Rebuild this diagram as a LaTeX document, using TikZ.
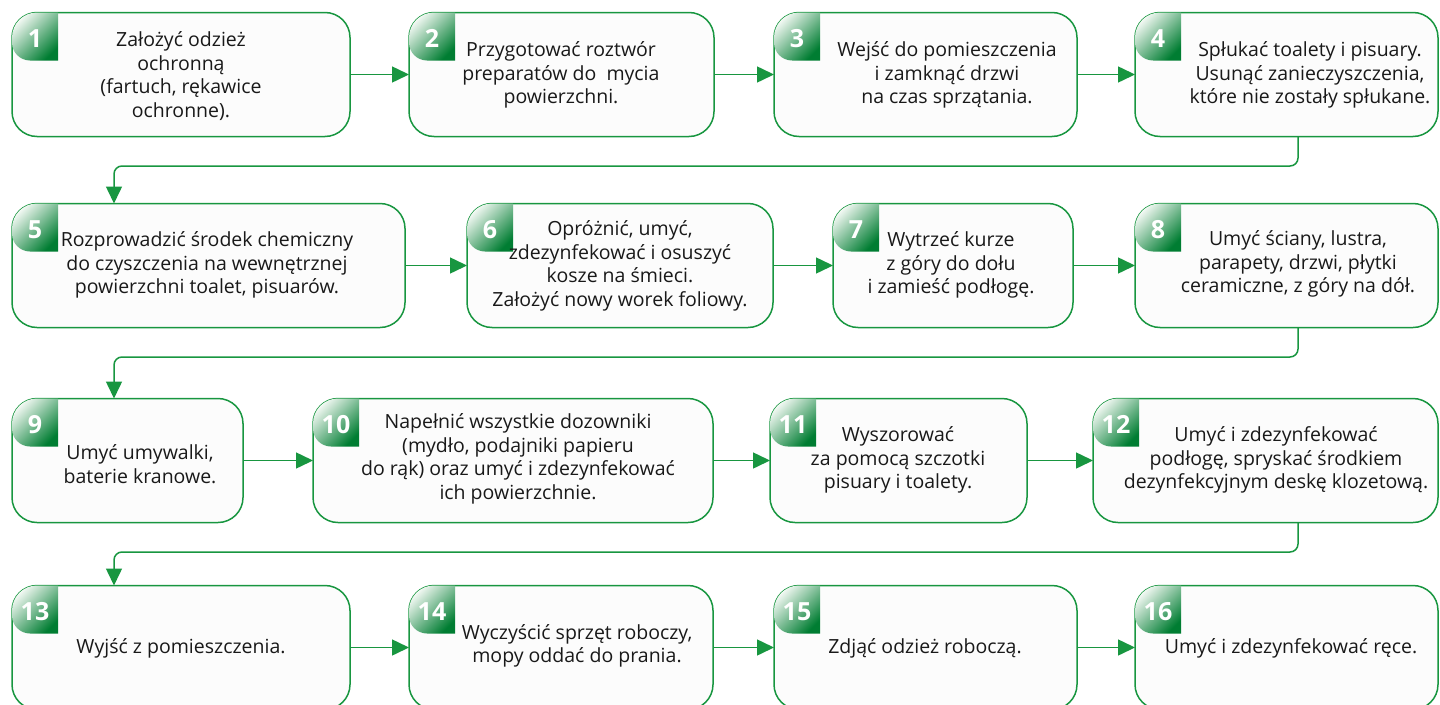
\documentclass[tikz,border=0pt]{standalone}
\usepackage{fontspec}
\setmainfont{Open Sans}
\usetikzlibrary{arrows.meta}
\definecolor{stepgreen}{RGB}{24,150,64}
\definecolor{badgedark}{RGB}{0,125,50}
\definecolor{badgemid}{RGB}{40,150,75}
\definecolor{badgelight}{RGB}{245,250,245}
\definecolor{boxfill}{RGB}{252,252,252}
\definecolor{textgray}{RGB}{25,25,25}
\tikzset{
  stepbox/.style={draw=stepgreen, line width=1.5pt, fill=boxfill, rounded corners=25pt,
    outer sep=0pt, inner sep=0pt, minimum height=124pt},
  steptext/.style={align=center, text=textgray, inner sep=0pt,
    font=\fontsize{19.5pt}{23.5pt}\selectfont},
  flow/.style={draw=stepgreen, line width=1.5pt, -{Triangle[length=17pt,width=16pt]}},
  badgenum/.style={text=white, font=\fontsize{25pt}{25pt}\selectfont\bfseries}
}
% green corner badge with the step number
\newcommand\stepbadge[2]{%
  \begin{scope}
    \clip[rounded corners=25pt] (#1.north west) rectangle (#1.south east);
    \shade[left color=badgelight, middle color=badgemid, right color=badgedark, shading angle=45]
      (#1.north west) -- ++(46,0) -- ++(0,48) [rounded corners=18pt] -- ++(-46,0) [sharp corners] -- cycle;
  \end{scope}
  \node[badgenum] (#1n) at ([shift={(23,26)}]#1.north west) {#2};
}

\begin{document}
\begin{tikzpicture}[x=1pt,y=-1pt]
			%%%%% START %%%%%
			\clip (0,0) rectangle (1440,704);
			
			% boxes
			\node[stepbox, minimum width=338pt] (s1) at (181,74.5) {};
			\node[stepbox, minimum width=305pt] (s2) at (561.5,74.5) {};
			\node[stepbox, minimum width=303pt] (s3) at (925.5,74.5) {};
			\node[stepbox, minimum width=303pt] (s4) at (1286.5,74.5) {};
			\node[stepbox, minimum width=393pt] (s5) at (208.5,265.5) {};
			\node[stepbox, minimum width=306pt] (s6) at (620,265.5) {};
			\node[stepbox, minimum width=240pt] (s7) at (953,265.5) {};
			\node[stepbox, minimum width=303pt] (s8) at (1286.5,265.5) {};
			\node[stepbox, minimum width=231pt] (s9) at (127.5,460.5) {};
			\node[stepbox, minimum width=400pt] (s10) at (513,460.5) {};
			\node[stepbox, minimum width=257pt] (s11) at (898.5,460.5) {};
			\node[stepbox, minimum width=345pt] (s12) at (1265.5,460.5) {};
			\node[stepbox, minimum width=338pt] (s13) at (181,647.5) {};
			\node[stepbox, minimum width=304pt] (s14) at (561,647.5) {};
			\node[stepbox, minimum width=303pt] (s15) at (925.5,647.5) {};
			\node[stepbox, minimum width=303pt] (s16) at (1286.5,647.5) {};
			
			\foreach \i in {1,...,16} {\stepbadge{s\i}{\i}}
			
			% texts
			\node[steptext] (t1) at (181,76) {Założyć odzież\\ochronną\\(fartuch, rękawice\\ochronne).};
			\node[steptext] (t2) at (561,75) {Przygotować roztwór\\preparatów do\ \ mycia\\powierzchni.};
			\node[steptext] (t3) at (947,75) {Wejść do pomieszczenia\\i zamknąć drzwi\\na czas sprzątania.};
			\node[steptext] (t4) at (1310,75) {Spłukać toalety i pisuary.\\Usunąć zanieczyszczenia,\\które nie zostały spłukane.};
			\node[steptext] (t5) at (207,265) {Rozprowadzić środek chemiczny\\do czyszczenia na wewnętrznej\\powierzchni toalet, pisuarów.};
			\node[steptext] (t6) at (620,266) {Opróżnić, umyć,\\zdezynfekować i osuszyć\\kosze na śmieci.\\Założyć nowy worek foliowy.};
			\node[steptext] (t7) at (951,265) {Wytrzeć kurze\\z góry do dołu\\i zamieść podłogę.};
			\node[steptext] (t8) at (1298,264) {Umyć ściany, lustra,\\parapety, drzwi, płytki\\ceramiczne, z góry na dół.};
			\node[steptext] (t9) at (140,464) {Umyć umywalki,\\baterie kranowe.};
			\node[steptext] (t10) at (518,459) {Napełnić wszystkie dozowniki\\(mydło, podajniki papieru\\do rąk) oraz umyć i zdezynfekować\\ich powierzchnie.};
			\node[steptext] (t11) at (898,460) {Wyszorować\\za pomocą szczotki\\pisuary i toalety.};
			\node[steptext] (t12) at (1276,460) {Umyć i zdezynfekować\\podłogę, spryskać środkiem\\dezynfekcyjnym deskę klozetową.};
			\node[steptext] (t13) at (181,648) {Wyjść z pomieszczenia.};
			\node[steptext] (t14) at (577,646) {Wyczyścić sprzęt roboczy,\\mopy oddać do prania.};
			\node[steptext] (t15) at (925,648) {Zdjąć odzież roboczą.};
			\node[steptext] (t16) at (1291,648) {Umyć i zdezynfekować ręce.};
			
			% arrows within rows
			\foreach \a/\b in {1/2,2/3,3/4,5/6,6/7,7/8,9/10,10/11,11/12,13/14,14/15,15/16}
			  \draw[flow] (s\a) -- (s\b);
			
			% turns between rows
			\coordinate (k1) at (1298,166);  \coordinate (j1) at (114,166);
			\coordinate (k2) at (1298,357);  \coordinate (j2) at (114,357);
			\coordinate (k3) at (1298,552);  \coordinate (j3) at (114,552);
			\draw[flow, rounded corners=8pt] (s4.south -| k1) -- (k1) -- (j1) -- (s5.north -| j1);
			\draw[flow, rounded corners=8pt] (s8.south -| k2) -- (k2) -- (j2) -- (s9.north -| j2);
			\draw[flow, rounded corners=8pt] (s12.south -| k3) -- (k3) -- (j3) -- (s13.north -| j3);
			
			%%%%% END %%%%%
\end{tikzpicture}
\end{document}
